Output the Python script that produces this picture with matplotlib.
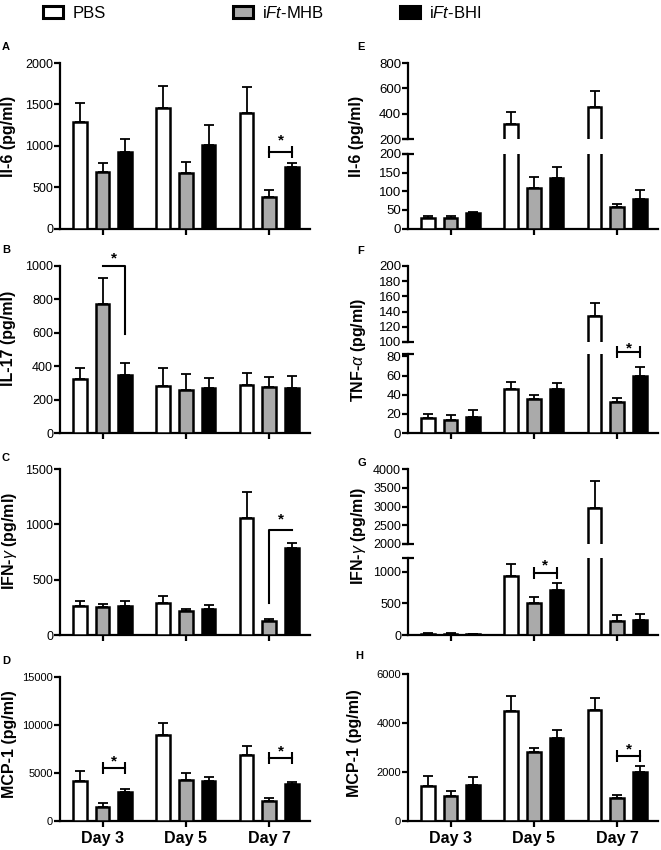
import matplotlib.pyplot as plt
import numpy as np
from matplotlib.patches import Patch

plt.rcParams['font.family'] = ['Liberation Sans', 'DejaVu Sans']
plt.rcParams['mathtext.fontset'] = 'custom'
plt.rcParams['mathtext.rm'] = 'Liberation Sans'
plt.rcParams['mathtext.it'] = 'Liberation Sans:italic'
plt.rcParams['mathtext.bf'] = 'Liberation Sans:bold'

# 数据
days = ['Day 3', 'Day 5', 'Day 7']
groups = ['PBS', 'i$\\mathit{Ft}$-MHB', 'i$\\mathit{Ft}$-BHI']
colors = ['white', '#aaaaaa', 'black']

# A  Il-6 (左)
a_val = [[1290, 1460, 1400], [685, 676, 375], [920, 1014, 740]]
a_err = [[228, 261, 310], [101, 129, 85], [161, 233, 57]]
# B  IL-17
b_val = [[322, 280, 286], [775, 260, 276], [347, 268, 268]]
b_err = [[66, 109, 72], [153, 94, 60], [70, 63, 76]]
# C  IFN-gamma (左)
c_val = [[263, 293, 1060], [257, 217, 124], [263, 236, 782]]
c_err = [[45, 63, 230], [21, 22, 24], [45, 39, 49]]
# D  MCP-1 (左)
d_val = [[4150, 9000, 6920], [1490, 4260, 2110], [2980, 4190, 3840]]
d_err = [[1070, 1210, 900], [340, 790, 240], [380, 380, 240]]
# E  Il-6 (右)
e_val = [[29, 316, 451], [29, 109, 58], [42, 136, 79]]
e_err = [[5, 98, 130], [4, 29, 9], [3, 29, 25]]
# F  TNF-alpha
f_val = [[15.7, 46, 134], [14, 36, 32], [17, 46, 60]]
f_err = [[4.3, 7, 17], [5, 4, 4.8], [6.6, 6, 9]]
# G  IFN-gamma (右)
g_val = [[22, 940, 2955], [22, 505, 218], [18, 713, 245]]
g_err = [[4, 185, 735], [4, 91, 91], [3, 117, 85]]
# H  MCP-1 (右)
h_val = [[1446, 4475, 4543], [1023, 2824, 928], [1487, 3370, 1990]]
h_err = [[394, 615, 477], [205, 136, 150], [313, 355, 260]]

W, H = 661, 850
fig = plt.figure(figsize=(W / 100, H / 100), dpi=100)

x = np.arange(3)
offsets = [-0.272, 0, 0.272]
LW = 1.6


def px_ax(left, right, top, bottom):
    # 像素坐标 -> figure 坐标
    return fig.add_axes([left / W, 1 - bottom / H, (right - left) / W, (bottom - top) / H])


def bars(ax, vals, errs):
    for k in range(3):
        ax.bar(x + offsets[k], vals[k], 0.165, color=colors[k], edgecolor='black',
               linewidth=1.8, yerr=[np.zeros(3), errs[k]], capsize=3.5,
               error_kw=dict(elinewidth=1.3, capthick=1.3, ecolor='black'), zorder=3)


def style(ax, ticks, fs, lim, xaxis=True):
    for s in ['top', 'right']:
        ax.spines[s].set_visible(False)
    ax.spines['left'].set_linewidth(LW)
    ax.spines['bottom'].set_linewidth(LW)
    ax.set_xlim(-0.51, 2.49)
    ax.set_ylim(*lim)
    ax.set_yticks(ticks)
    ax.tick_params(axis='y', width=LW, length=4, pad=1, labelsize=fs)
    if xaxis:
        ax.set_xticks(x)
        ax.set_xticklabels([])
        ax.tick_params(axis='x', width=LW, length=4)
    else:
        ax.spines['bottom'].set_visible(False)
        ax.set_xticks([])


def stub(ax, ypos):
    # 断轴处的小横线
    ax.plot([0], [ypos], transform=ax.transAxes, marker='_', ms=8, mew=LW,
            color='black', clip_on=False)


def bracket(ax, day, y, star_dy):
    ax.plot([day, day + offsets[2]], [y, y], color='black', lw=1.5, marker='|',
            ms=9, mew=1.5, clip_on=False, zorder=4)
    ax.text(day + offsets[2] / 2, y + star_dy, '*', ha='center', va='center',
            fontsize=11, fontweight='bold', clip_on=False)


def letter(px, py, s):
    fig.text(px / W, 1 - py / H, s, ha='center', va='center', fontsize=8, fontweight='bold')


def ylab(px, py, s):
    fig.text(px / W, 1 - py / H, s, ha='center', va='center', rotation=90,
             fontsize=11.5, fontweight='bold')


L0, L1 = 60, 310
R0, R1 = 408, 658

# A
ax = px_ax(L0, L1, 63, 228.5)
bars(ax, a_val, a_err)
style(ax, [0, 500, 1000, 1500, 2000], 9, (0, 2000))
bracket(ax, 2, 925, 140)
letter(6, 47, 'A')
ylab(9, 136, 'Il-6 (pg/ml)')

# B
ax = px_ax(L0, L1, 266, 433)
bars(ax, b_val, b_err)
style(ax, [0, 200, 400, 600, 800, 1000], 9, (0, 1000))
ax.plot([0, offsets[2], offsets[2]], [1000, 1000, 590], color='black', lw=1.5,
        clip_on=False, zorder=4)
ax.text(offsets[2] / 2, 1045, '*', ha='center', va='center', fontsize=11,
        fontweight='bold', clip_on=False)
letter(6, 250, 'B')
ylab(9, 338, 'IL-17 (pg/ml)')

# C
ax = px_ax(L0, L1, 469, 635)
bars(ax, c_val, c_err)
style(ax, [0, 500, 1000, 1500], 9, (0, 1500))
ax.plot([2, 2, 2 + offsets[2]], [287, 951, 951], color='black', lw=1.5,
        clip_on=False, zorder=4)
ax.text(2 + offsets[2] / 2, 1040, '*', ha='center', va='center', fontsize=11,
        fontweight='bold')
letter(6, 458, 'C')
ylab(10, 541, 'IFN-$\\gamma$ (pg/ml)')

# D
ax = px_ax(L0, L1, 677, 821)
bars(ax, d_val, d_err)
style(ax, [0, 5000, 10000, 15000], 8, (0, 15000))
ax.set_xticklabels(days, fontsize=11.5, fontweight='bold')
ax.tick_params(axis='x', pad=3)
bracket(ax, 0, 5470, 700)
bracket(ax, 2, 6570, 700)
letter(6, 661, 'D')
ylab(10, 744, 'MCP-1 (pg/ml)')

# E (断轴)
ax = px_ax(R0, R1, 63, 139)
bars(ax, e_val, e_err)
style(ax, [200, 400, 600, 800], 9.5, (200, 800), xaxis=False)
stub(ax, 0)
ax = px_ax(R0, R1, 154, 228.5)
bars(ax, e_val, e_err)
style(ax, [0, 50, 100, 150, 200], 9.5, (0, 200))
stub(ax, 1)
letter(361, 47, 'E')
ylab(357, 136, 'Il-6 (pg/ml)')

# F (断轴)
ax = px_ax(R0, R1, 266, 342)
bars(ax, f_val, f_err)
style(ax, [100, 120, 140, 160, 180, 200], 9.5, (100, 200), xaxis=False)
stub(ax, 0)
ax = px_ax(R0, R1, 354.5, 433)
bars(ax, f_val, f_err)
style(ax, [0, 20, 40, 60, 80], 9.5, (0, 82))
stub(ax, 1)
bracket(ax, 2, 85, 3.5)
letter(361, 251, 'F')
ylab(358, 350, 'TNF-$\\alpha$ (pg/ml)')

# G (断轴)
ax = px_ax(R0, R1, 469, 544)
bars(ax, g_val, g_err)
style(ax, [2000, 2500, 3000, 3500, 4000], 9, (2000, 4000), xaxis=False)
stub(ax, 0)
ax = px_ax(R0, R1, 558, 635)
bars(ax, g_val, g_err)
style(ax, [0, 500, 1000], 9, (0, 1220))
stub(ax, 1)
bracket(ax, 1, 984, 110)
letter(362, 463, 'G')
ylab(358, 536, 'IFN-$\\gamma$ (pg/ml)')

# H
ax = px_ax(R0, R1, 674, 821)
bars(ax, h_val, h_err)
style(ax, [0, 2000, 4000, 6000], 8, (0, 6000))
ax.set_xticklabels(days, fontsize=11.5, fontweight='bold')
ax.tick_params(axis='x', pad=3)
bracket(ax, 2, 2660, 280)
letter(359, 656, 'H')
ylab(355, 743, 'MCP-1 (pg/ml)')

# 图例
leg_x = [43, 233, 400]
for k in range(3):
    fig.legend(handles=[Patch(facecolor=colors[k], edgecolor='black', linewidth=2.2)],
               labels=[groups[k]], loc='center left', bbox_to_anchor=(leg_x[k] / W, 1 - 13 / H),
               frameon=False, fontsize=12, borderpad=0, borderaxespad=0,
               handlelength=1.2, handleheight=0.75, handletextpad=0.55)

fig.savefig('out.png', dpi=100)
